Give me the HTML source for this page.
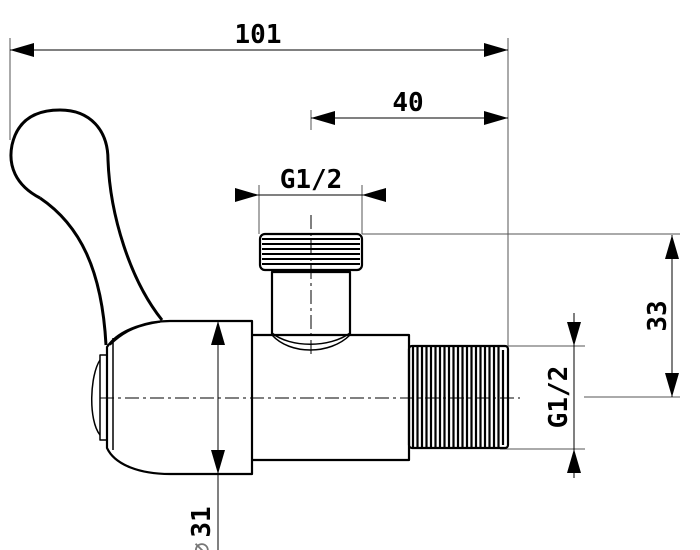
<!DOCTYPE html>
<html><head><style>
html,body{margin:0;padding:0;background:#fff;width:700px;height:550px;overflow:hidden}
text{font-family:"DejaVu Sans Mono","Liberation Mono",monospace;font-weight:bold;font-size:26px;fill:#000}
</style></head><body>
<svg width="700" height="550" viewBox="0 0 700 550" xmlns="http://www.w3.org/2000/svg">
<g stroke="#555" stroke-width="1" fill="none">
<line x1="10" y1="38" x2="10" y2="140"/>
<line x1="508" y1="38" x2="508" y2="346"/>
<line x1="259" y1="185" x2="259" y2="234"/>
<line x1="362" y1="185" x2="362" y2="234"/>
<line x1="362" y1="234" x2="680" y2="234"/>
<line x1="584" y1="397" x2="680" y2="397"/>
<line x1="508" y1="346" x2="585" y2="346"/>
<line x1="500" y1="449" x2="585" y2="449"/>
<line x1="311" y1="110" x2="311" y2="130"/>
</g>
<g stroke="#000" stroke-width="1" fill="none">
<line x1="10" y1="50" x2="508" y2="50"/>
<line x1="311" y1="118" x2="508" y2="118"/>
<line x1="236" y1="195" x2="385" y2="195"/>
<line x1="672" y1="235" x2="672" y2="397"/>
<line x1="574" y1="313" x2="574" y2="478"/>
<line x1="218" y1="321" x2="218" y2="550"/>
</g>
<g fill="#000">
<path d="M10,50l24,-7v14z"/><path d="M508,50l-24,-7v14z"/>
<path d="M311,118l24,-7v14z"/><path d="M508,118l-24,-7v14z"/>
<path d="M259,195l-24,-7v14z"/><path d="M362,195l24,-7v14z"/>
<path d="M672,235l-7,24h14z"/><path d="M672,397l-7,-24h14z"/>
<path d="M574,346l-7,-24h14z"/><path d="M574,449l-7,24h14z"/>
<path d="M218,321l-7,24h14z"/><path d="M218,474l-7,-24h14z"/>
</g>
<g stroke="#000" stroke-width="1" stroke-dasharray="14,4,3,4" fill="none">
<line x1="100" y1="398" x2="520" y2="398"/>
<line x1="311" y1="215" x2="311" y2="355"/>
</g>
<g stroke="#000" stroke-width="2.2" fill="none" stroke-linejoin="round">
<path d="M40,198 C15,185 8,165 12,145 C18,118 38,110 60,110 C90,110 108,130 108,160 C110,215 130,280 162,320" stroke-width="3"/>
<path d="M40,198 C80,225 102,270 106,345" stroke-width="3"/>
<path d="M170,321 H252 V474 H170 C140,474 115,465 107,448 V347 C120,328 150,321 170,321 Z"/>
<path d="M110,345 C125,330 140,325 160,322" stroke-width="1.5"/>
<path d="M113,338 V450" stroke-width="1.5"/>
<path d="M107,355 H100 V440 H107" stroke-width="1.5"/>
<path d="M100,360 C90,375 88,420 100,435" stroke-width="1.5"/>
<path d="M252,335 H409 V460 H252"/>
<path d="M272,335 V272 H350 V335"/>
<path d="M272,335 C290,355 330,355 350,335" stroke-width="1.5"/>
<path d="M272,333 C290,348 330,348 350,333" stroke-width="1.5"/>
<rect x="260" y="234" width="102" height="36" rx="5"/>
<rect x="409" y="346" width="99" height="102" rx="3"/>
</g>
<g stroke="#000" stroke-width="2">
<line x1="262" y1="239" x2="360" y2="239"/><line x1="262" y1="244" x2="360" y2="244"/>
<line x1="262" y1="249" x2="360" y2="249"/><line x1="262" y1="254" x2="360" y2="254"/>
<line x1="262" y1="259" x2="360" y2="259"/><line x1="262" y1="264" x2="360" y2="264"/>
</g>
<g stroke="#000" stroke-width="2.2">
<line x1="413" y1="347" x2="413" y2="447"/><line x1="417.5" y1="347" x2="417.5" y2="447"/>
<line x1="422" y1="347" x2="422" y2="447"/><line x1="426.5" y1="347" x2="426.5" y2="447"/>
<line x1="431" y1="347" x2="431" y2="447"/><line x1="435.5" y1="347" x2="435.5" y2="447"/>
<line x1="440" y1="347" x2="440" y2="447"/><line x1="444.5" y1="347" x2="444.5" y2="447"/>
<line x1="449" y1="347" x2="449" y2="447"/><line x1="453.5" y1="347" x2="453.5" y2="447"/>
<line x1="458" y1="347" x2="458" y2="447"/><line x1="462.5" y1="347" x2="462.5" y2="447"/>
<line x1="467" y1="347" x2="467" y2="447"/><line x1="471.5" y1="347" x2="471.5" y2="447"/>
<line x1="476" y1="347" x2="476" y2="447"/><line x1="480.5" y1="347" x2="480.5" y2="447"/>
<line x1="485" y1="347" x2="485" y2="447"/><line x1="489.5" y1="347" x2="489.5" y2="447"/>
<line x1="494" y1="347" x2="494" y2="447"/><line x1="498.5" y1="347" x2="498.5" y2="447"/>
<line x1="503" y1="350" x2="503" y2="445"/>
</g>
<text x="258" y="43" text-anchor="middle">101</text>
<text x="408" y="111" text-anchor="middle">40</text>
<text x="311" y="188" text-anchor="middle">G1/2</text>
<text transform="translate(666,316) rotate(-90)" text-anchor="middle">33</text>
<text transform="translate(567,397) rotate(-90)" text-anchor="middle">G1/2</text>
<text transform="translate(210,522) rotate(-90)" text-anchor="middle">31</text>
<text transform="translate(210,550) rotate(-90)" text-anchor="middle" style="font-weight:normal;fill:#777">⌀</text>
</svg>
</body></html>
